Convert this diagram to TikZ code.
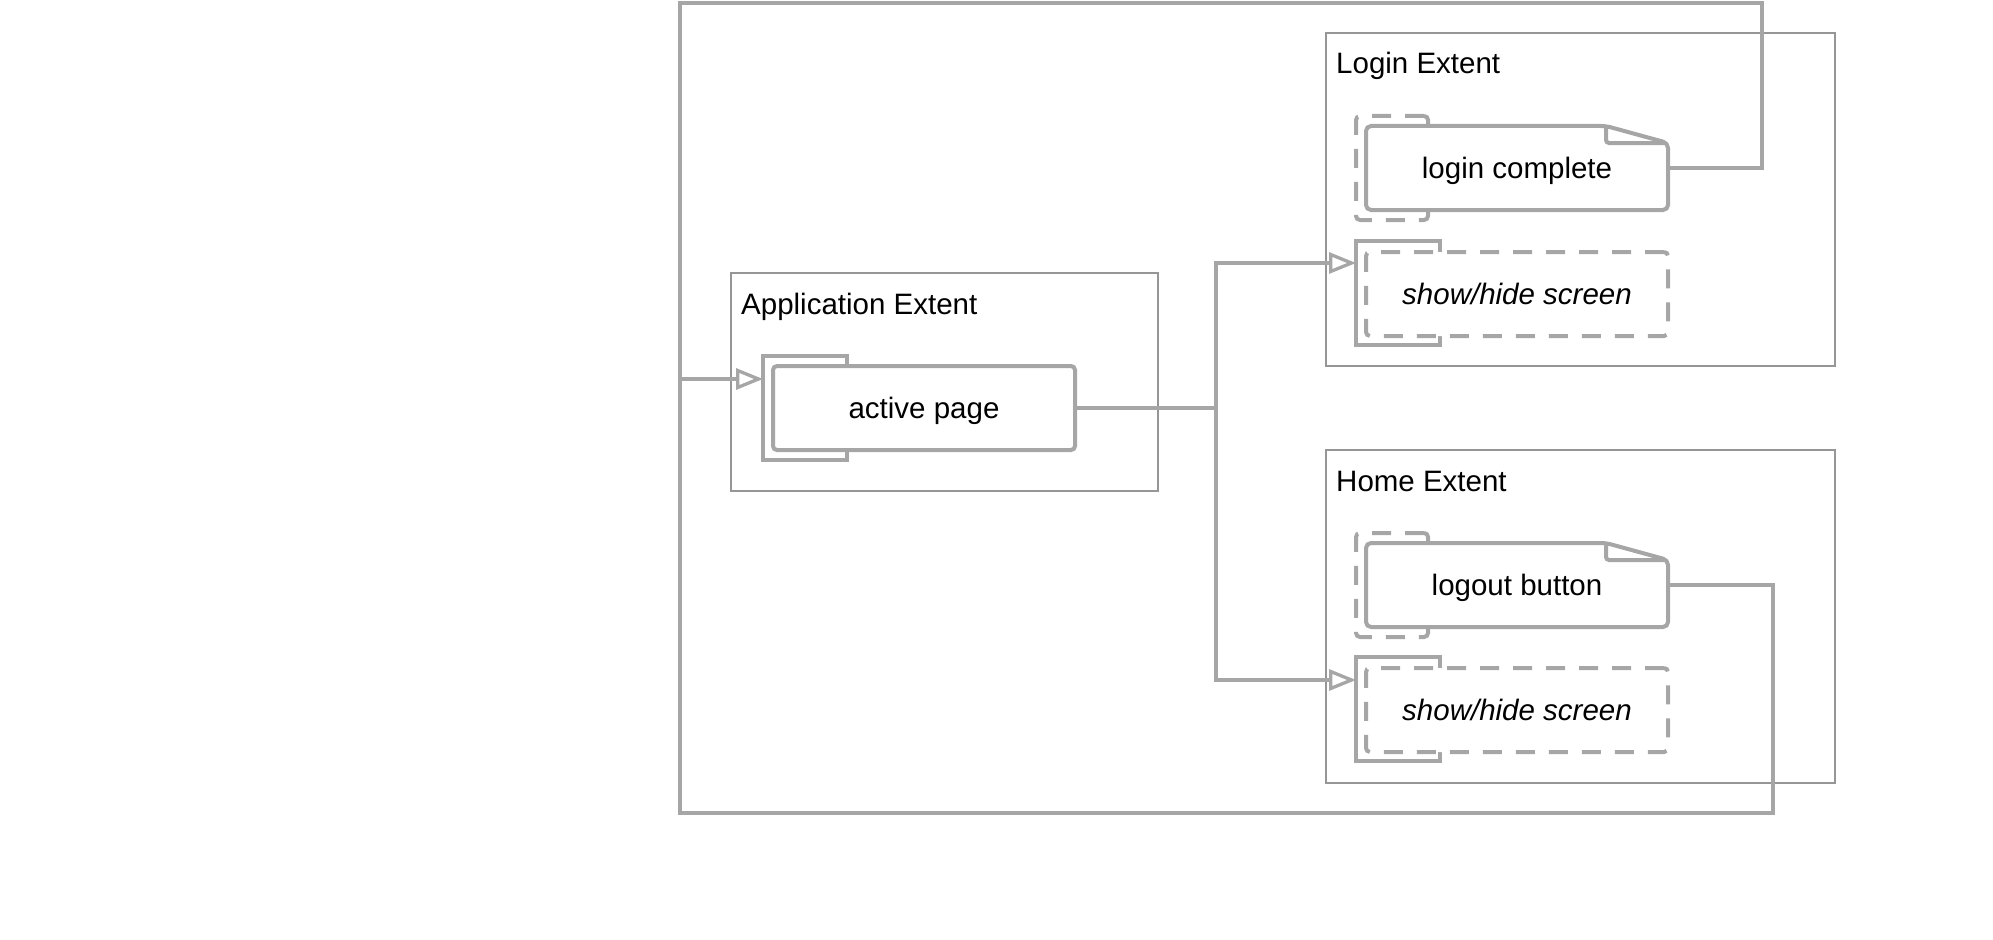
\documentclass[tikz,border=0pt]{standalone}
\usepackage{fontspec}
\setmainfont{Liberation Sans}
\usepackage{tikz}
\usetikzlibrary{arrows.meta,positioning}
\definecolor{linegray}{RGB}{166,166,166}
\definecolor{extgray}{RGB}{150,150,150}

\begin{document}
\begin{tikzpicture}[x=1pt,y=-1pt,font=\fontsize{29.5}{35}\selectfont,
  extent/.style={draw=extgray,line width=2pt,anchor=north west,inner sep=0pt,outer sep=0pt},
  extitle/.style={anchor=base west,inner sep=0pt},
  backbox/.style={draw=linegray,line width=4pt,anchor=north west,minimum width=84pt,minimum height=104pt,
    inner sep=0pt,outer sep=0pt},
  dashback/.style={backbox,minimum width=72pt,rounded corners=4pt,dash pattern=on 19pt off 14pt},
  elem/.style={draw=linegray,line width=4pt,fill=white,rounded corners=4pt,anchor=north west,
    minimum width=302pt,minimum height=84pt,inner sep=0pt,outer sep=0pt,text height=21pt,text depth=0pt},
  notebox/.style={elem,draw=none},
  dashelem/.style={elem,dash pattern=on 19pt off 14pt,font=\fontsize{29.5}{35}\selectfont\itshape},
  conn/.style={draw=linegray,line width=3.3pt},
  tip/.style={-{Triangle[open,length=27pt,width=21pt]}}]
\useasboundingbox (0,0) rectangle (1993,939);

% extents
\node[extent,minimum width=427pt,minimum height=218pt] (appext) at (731,273) {};
\node[extitle] (apptitle) at ([shift={(10,41)}]appext.north west) {Application Extent};
\node[extent,minimum width=509pt,minimum height=333pt] (loginext) at (1326,33) {};
\node[extitle] (logintitle) at ([shift={(10,41)}]loginext.north west) {Login Extent};
\node[extent,minimum width=509pt,minimum height=333pt] (homeext) at (1326,450) {};
\node[extitle] (hometitle) at ([shift={(10,41)}]homeext.north west) {Home Extent};

% application
\node[backbox] (activeback) at (763,356) {};
\node[elem] (active) at ([shift={(10,10)}]activeback.north west) {active page};

% login
\node[dashback] (lcback) at (1356,116) {};
\node[notebox] (lc) at ([shift={(10,10)}]lcback.north west) {login complete};
\draw[conn,line width=4pt,rounded corners=5pt] (lc.south west) -- (lc.north west) -- ([xshift=-62pt]lc.north east)
  -- ([yshift=-17pt]lc.north east) -- (lc.south east) -- cycle;
\draw[conn,line width=4pt,rounded corners=3pt] ([xshift=-62pt]lc.north east) |- ([xshift=-4pt,yshift=-17pt]lc.north east);
\node[backbox] (lshback) at (1356,241) {};
\node[dashelem] (lsh) at ([shift={(10,11)}]lshback.north west) {show/hide screen};

% home
\node[dashback] (lobback) at (1356,533) {};
\node[notebox] (lob) at ([shift={(10,10)}]lobback.north west) {logout button};
\draw[conn,line width=4pt,rounded corners=5pt] (lob.south west) -- (lob.north west) -- ([xshift=-62pt]lob.north east)
  -- ([yshift=-17pt]lob.north east) -- (lob.south east) -- cycle;
\draw[conn,line width=4pt,rounded corners=3pt] ([xshift=-62pt]lob.north east) |- ([xshift=-4pt,yshift=-17pt]lob.north east);
\node[backbox] (hshback) at (1356,657) {};
\node[dashelem] (hsh) at ([shift={(10,11)}]hshback.north west) {show/hide screen};

% connectors
\coordinate (split) at ([xshift=141pt]active.east);
\coordinate (loopne) at (1762,3);
\coordinate (loopse) at (1773,813);
\coordinate (loopjoin) at (680,379);
\draw[conn] (active.east) -- (split);
\draw[conn,tip] (split) |- ([yshift=-22pt]lshback.north west);
\draw[conn,tip] (split) |- ([yshift=-23pt]hshback.north west);
\draw[conn] (lc.east) -| (loopne) -| (loopjoin);
\draw[conn] (lob.east) -| (loopse) -| (loopjoin);
\draw[conn,tip] (loopjoin) -- ([yshift=-23pt]activeback.north west);
\end{tikzpicture}
\end{document}
